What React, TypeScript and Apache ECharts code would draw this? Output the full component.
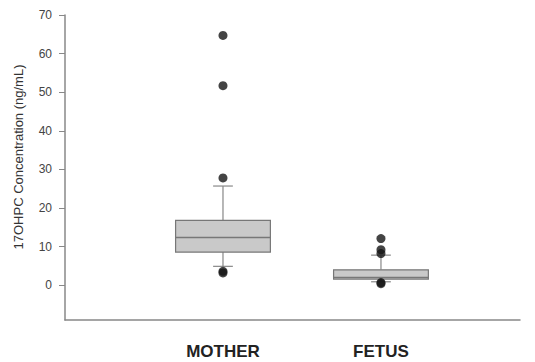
import React, { useEffect, useRef } from "react";
import * as echarts from "echarts";

const categories = ["MOTHER", "FETUS"];
const whiskerLow = [4.9, 0.9];
const q1 = [8.6, 1.6];
const median = [12.4, 2.0];
const q3 = [16.8, 4.0];
const whiskerHigh = [25.7, 7.8];
const motherOutliers = [64.7, 51.7, 27.8, 3.6, 3.2];
const fetusOutliers = [12.1, 9.2, 8.2, 0.7, 0.4];
const yTicks = [0, 10, 20, 30, 40, 50, 60, 70];

export default function App() {
  const ref = useRef<HTMLDivElement>(null);
  useEffect(() => {
    if (!ref.current) return;
    const chart = echarts.init(ref.current, null, { renderer: "svg" });
    const boxData = categories.map((_, i) => [i + 1, whiskerLow[i], q1[i], median[i], q3[i], whiskerHigh[i]]);
    const outlierData: number[][] = [];
    motherOutliers.forEach((v) => outlierData.push([1, v]));
    fetusOutliers.forEach((v) => outlierData.push([2, v]));
    const font = "'Liberation Sans', Arial, sans-serif";
    chart.setOption({
      animation: false,
      grid: { left: 65, right: 15, top: 15, bottom: 42 },
      xAxis: {
        type: "value",
        min: 0,
        max: 2.88,
        interval: 1,
        splitLine: { show: false },
        axisTick: { show: false },
        axisLine: { show: true, onZero: false, lineStyle: { color: "#888", width: 1.5 } },
        axisLabel: {
          showMaxLabel: false,
          margin: 23,
          fontFamily: font,
          fontWeight: "bold",
          fontSize: 17,
          color: "#222",
          formatter: (v: number) => (v === 1 ? categories[0] : v === 2 ? categories[1] : ""),
        },
      },
      yAxis: {
        type: "value",
        min: -9,
        max: 70,
        splitLine: { show: false },
        axisLine: { show: true, onZero: false, lineStyle: { color: "#888", width: 1.5 } },
        axisTick: { show: true, length: 6, customValues: yTicks, lineStyle: { color: "#888" } },
        axisLabel: { customValues: yTicks, margin: 13, fontFamily: font, fontSize: 12, color: "#444" },
      },
      graphic: [
        {
          type: "text",
          x: 18,
          y: 157,
          rotation: Math.PI / 2,
          style: {
            text: "17OHPC Concentration (ng/mL)",
            fontFamily: font,
            fontSize: 13,
            fill: "#333",
            align: "center",
            verticalAlign: "middle",
          },
        },
      ],
      series: [
        {
          type: "custom",
          data: boxData,
          encode: { x: 0, y: [1, 2, 3, 4, 5] },
          renderItem: (params: any, api: any) => {
            const x = api.value(0);
            const pLow = api.coord([x, api.value(1)]);
            const pQ1 = api.coord([x, api.value(2)]);
            const pMed = api.coord([x, api.value(3)]);
            const pQ3 = api.coord([x, api.value(4)]);
            const pHigh = api.coord([x, api.value(5)]);
            const bw = api.size([0.6, 0])[0];
            const cw = api.size([0.125, 0])[0];
            const cx = pQ1[0];
            const lineStyle = { stroke: "#888", lineWidth: 1.2 };
            return {
              type: "group",
              children: [
                { type: "line", shape: { x1: cx, y1: pLow[1], x2: cx, y2: pQ1[1] }, style: lineStyle },
                { type: "line", shape: { x1: cx, y1: pQ3[1], x2: cx, y2: pHigh[1] }, style: lineStyle },
                { type: "line", shape: { x1: cx - cw / 2, y1: pLow[1], x2: cx + cw / 2, y2: pLow[1] }, style: lineStyle },
                { type: "line", shape: { x1: cx - cw / 2, y1: pHigh[1], x2: cx + cw / 2, y2: pHigh[1] }, style: lineStyle },
                {
                  type: "rect",
                  shape: { x: cx - bw / 2, y: pQ3[1], width: bw, height: pQ1[1] - pQ3[1] },
                  style: { fill: "#c9c9c9", stroke: "#777", lineWidth: 1.2 },
                },
                { type: "line", shape: { x1: cx - bw / 2, y1: pMed[1], x2: cx + bw / 2, y2: pMed[1] }, style: { stroke: "#777", lineWidth: 1.5 } },
              ],
            };
          },
          z: 2,
        },
        {
          type: "scatter",
          data: outlierData,
          symbol: "circle",
          symbolSize: 9,
          itemStyle: { color: "#151515" },
          z: 3,
        },
      ],
    });
    return () => chart.dispose();
  }, []);
  return <div ref={ref} style={{ position: "absolute", left: 0, top: 0, width: 535, height: 362 }} />;
}
